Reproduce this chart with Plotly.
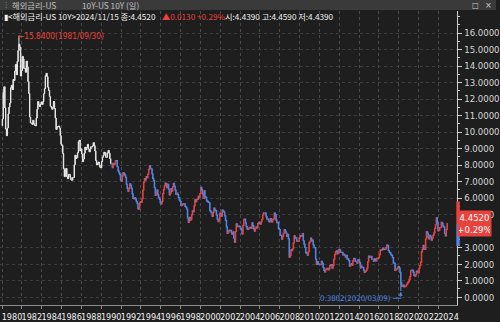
import plotly.graph_objects as go
import pandas as pd

# Monthly US 10Y yield levels (read/estimated), Jan 1980 .. Nov 2024
y1980s = [10.80, 12.41, 12.75, 11.47, 10.18, 9.78, 10.25, 11.10, 11.51, 11.75, 12.68, 12.84,
          12.57, 13.19, 13.12, 13.68, 14.10, 13.47, 14.28, 14.94, 15.32, 15.15, 13.39, 13.72,
          14.59, 14.43, 13.86, 13.87, 13.62, 14.30, 13.95, 13.06, 12.34, 10.91, 10.55, 10.54,
          10.46, 10.72, 10.51, 10.40, 10.38, 10.85, 11.38, 11.85, 11.65, 11.54, 11.69, 11.83,
          11.67, 11.84, 12.32, 12.63, 13.41, 13.56, 13.36, 12.72, 12.52, 12.16, 11.57, 11.50,
          11.38, 11.51, 11.86, 11.43, 10.85, 10.16, 10.31, 10.33, 10.37, 10.24, 9.78, 9.26,
          9.19, 8.70, 7.78, 7.30, 7.71, 7.80, 7.30, 7.17, 7.45, 7.43, 7.25, 7.11,
          7.08, 7.25, 7.25, 8.02, 8.61, 8.40, 8.45, 8.76, 9.42, 9.52, 8.86, 8.99,
          8.67, 8.21, 8.37, 8.72, 9.09, 8.92, 9.06, 9.26, 8.98, 8.80, 8.96, 9.11,
          9.09, 9.17, 9.36, 9.18, 8.86, 8.28, 8.02, 8.11, 8.19, 8.01, 7.87, 7.84]
y1990s = [8.21, 8.47, 8.59, 8.79, 8.76, 8.48, 8.47, 8.75, 8.89, 8.72, 8.39, 8.08,
          8.09, 7.85, 8.11, 8.04, 8.07, 8.28, 8.27, 7.90, 7.65, 7.53, 7.42, 7.09,
          7.03, 7.34, 7.54, 7.48, 7.39, 7.26, 6.84, 6.59, 6.42, 6.59, 6.87, 6.77,
          6.60, 6.26, 5.98, 5.97, 6.04, 5.96, 5.81, 5.68, 5.36, 5.33, 5.72, 5.77,
          5.75, 5.97, 6.48, 6.97, 7.18, 7.10, 7.30, 7.24, 7.46, 7.74, 7.96, 7.81,
          7.78, 7.47, 7.20, 7.06, 6.63, 6.17, 6.28, 6.49, 6.20, 6.04, 5.93, 5.71,
          5.65, 5.81, 6.27, 6.51, 6.74, 6.91, 6.87, 6.64, 6.83, 6.53, 6.20, 6.30,
          6.58, 6.42, 6.69, 6.89, 6.71, 6.49, 6.22, 6.30, 6.21, 6.03, 5.88, 5.81,
          5.54, 5.57, 5.65, 5.64, 5.65, 5.50, 5.46, 5.34, 4.81, 4.53, 4.83, 4.65,
          4.72, 5.00, 5.23, 5.18, 5.54, 5.90, 5.79, 5.94, 5.92, 6.11, 6.03, 6.28]
y2000s = [6.66, 6.52, 6.26, 5.99, 6.44, 6.10, 6.05, 5.83, 5.80, 5.74, 5.72, 5.24,
          5.16, 5.10, 4.89, 5.14, 5.39, 5.28, 5.24, 4.97, 4.73, 4.57, 4.65, 5.09,
          5.04, 4.91, 5.28, 5.21, 5.16, 4.93, 4.65, 4.26, 3.87, 3.94, 4.05, 4.03,
          4.05, 3.90, 3.81, 3.96, 3.57, 3.33, 3.98, 4.45, 4.27, 4.29, 4.30, 4.27,
          4.15, 4.08, 3.83, 4.35, 4.72, 4.73, 4.50, 4.28, 4.13, 4.10, 4.19, 4.23,
          4.22, 4.17, 4.50, 4.34, 4.14, 4.00, 4.18, 4.26, 4.20, 4.46, 4.54, 4.47,
          4.42, 4.57, 4.72, 4.99, 5.11, 5.11, 5.09, 4.88, 4.72, 4.73, 4.60, 4.56,
          4.76, 4.72, 4.56, 4.69, 4.75, 5.10, 5.00, 4.67, 4.52, 4.53, 4.15, 4.10,
          3.74, 3.74, 3.51, 3.68, 3.88, 4.10, 4.01, 3.89, 3.69, 3.81, 3.53, 2.42,
          2.52, 2.87, 2.82, 2.93, 3.29, 3.72, 3.56, 3.59, 3.40, 3.39, 3.40, 3.59]
y2010s = [3.73, 3.69, 3.73, 3.85, 3.42, 3.20, 3.01, 2.70, 2.65, 2.54, 2.76, 3.29,
          3.39, 3.58, 3.41, 3.46, 3.17, 3.00, 3.00, 2.30, 1.98, 2.15, 2.01, 1.98,
          1.97, 1.97, 2.17, 2.05, 1.80, 1.62, 1.53, 1.68, 1.72, 1.75, 1.65, 1.72,
          1.91, 1.98, 1.96, 1.76, 1.93, 2.30, 2.58, 2.74, 2.81, 2.62, 2.72, 2.90,
          2.86, 2.71, 2.72, 2.71, 2.56, 2.60, 2.54, 2.42, 2.53, 2.30, 2.33, 2.21,
          1.88, 1.98, 2.04, 1.94, 2.20, 2.36, 2.32, 2.17, 2.17, 2.07, 2.26, 2.24,
          2.09, 1.78, 1.89, 1.81, 1.81, 1.64, 1.50, 1.56, 1.63, 1.76, 2.14, 2.49,
          2.43, 2.42, 2.48, 2.30, 2.30, 2.19, 2.32, 2.21, 2.20, 2.36, 2.35, 2.40,
          2.58, 2.86, 2.84, 2.87, 2.98, 2.91, 2.89, 2.89, 3.00, 3.15, 3.12, 2.83,
          2.71, 2.68, 2.57, 2.53, 2.40, 2.07, 2.06, 1.63, 1.70, 1.71, 1.81, 1.86]
y2020s = [1.76, 1.50, 0.87, 0.66, 0.67, 0.73, 0.62, 0.65, 0.68, 0.79, 0.87, 0.93,
          1.08, 1.26, 1.61, 1.64, 1.62, 1.52, 1.32, 1.28, 1.37, 1.58, 1.56, 1.47,
          1.76, 1.93, 2.13, 2.75, 2.90, 3.14, 2.90, 2.90, 3.52, 3.98, 3.89, 3.62,
          3.53, 3.75, 3.66, 3.46, 3.57, 3.75, 3.90, 4.17, 4.38, 4.80, 4.50, 4.02,
          4.06, 4.21, 4.21, 4.54, 4.48, 4.31, 4.25, 3.87, 3.72, 4.10, 4.452]
first_open = 10.39

# Extremes and quote values shown on the chart
peak_date, peak_val = "1981-09-30", 15.84
low_date, low_val = "2020-03-09", 0.3802
last_close, last_chg, last_pct = 4.4520, 0.0130, 0.29
q_open, q_high, q_low = 4.4390, 4.4590, 4.4390
axis_bar_high, axis_bar_low = 5.80, 3.10
y_ticks = [v for v in range(0, 17) if v != 4]

closes = y1980s + y1990s + y2000s + y2010s + y2020s
dates = pd.date_range("1980-01-01", periods=len(closes), freq="MS") + pd.Timedelta(days=14)
opens = [first_open] + closes[:-1]
highs = [max(o, c) for o, c in zip(opens, closes)]
lows = [min(o, c) for o, c in zip(opens, closes)]
ip = (1981 - 1980) * 12 + 8
il = (2020 - 1980) * 12 + 2
highs[ip] = peak_val
lows[il] = low_val

split = 132  # white candles through 1990
RED = "#e8423c"
BLUE = "#4f86e6"
BG = "#1e1e1e"
FONT = "Liberation Sans Narrow, DejaVu Sans Condensed, Liberation Sans, sans-serif"
KFONT = "Noto Sans CJK KR, Liberation Sans, sans-serif"

fig = go.Figure()
fig.add_trace(go.Candlestick(
    x=dates[:split], open=opens[:split], high=highs[:split], low=lows[:split], close=closes[:split],
    increasing=dict(line=dict(color="#e8e8e8", width=1), fillcolor="#e8e8e8"),
    decreasing=dict(line=dict(color="#e8e8e8", width=1), fillcolor="#e8e8e8"),
    whiskerwidth=0, hoverinfo="skip"))
fig.add_trace(go.Candlestick(
    x=dates[split:], open=opens[split:], high=highs[split:], low=lows[split:], close=closes[split:],
    increasing=dict(line=dict(color=RED, width=1.2), fillcolor=RED),
    decreasing=dict(line=dict(color=BLUE, width=1.2), fillcolor=BLUE),
    whiskerwidth=0, hoverinfo="skip"))

W, H = 500, 322
def px(x): return x / W
def py(y): return 1 - y / H

fig.update_layout(
    width=W, height=H, margin=dict(l=0, r=0, t=0, b=0),
    paper_bgcolor=BG, plot_bgcolor=BG, showlegend=False,
    font=dict(family=FONT, size=10, color="#e0e0e0"),
    xaxis=dict(domain=[0, 461 / W], type="date", range=["1979-10-19", "2025-11-24"],
               rangeslider=dict(visible=False), tick0="1980-01-01", dtick="M24", tickformat="%Y",
               tickangle=0,
               showgrid=True, gridcolor="#4a4a4a", griddash="dot", gridwidth=1,
               showline=True, linecolor="#8a8a8a", ticks="outside", ticklen=3, tickcolor="#8a8a8a",
               ticklabelshift=10, tickfont=dict(size=9, color="#f2f2f2", family=FONT),
               zeroline=False, fixedrange=True),
    yaxis=dict(domain=[14 / H, 311 / H], side="right", range=[-0.48, 17.34],
               tickvals=y_ticks, tickformat=".4f",
               showgrid=True, gridcolor="#3c3c3c", griddash="dot", gridwidth=1,
               showline=True, linecolor="#cfcfcf", ticks="outside", ticklen=4, tickcolor="#cfcfcf",
               minor=dict(dtick=0.5, ticklen=2, tickcolor="#cfcfcf", showgrid=False),
               tickfont=dict(size=9.5, color="#d8d8d8", family=FONT), zeroline=False),
)

shapes = []
# header bar
shapes.append(dict(type="rect", xref="paper", yref="paper", x0=0, x1=1, y0=py(10), y1=1,
                   fillcolor="#3a3a3a", line=dict(width=0), layer="above"))
# axis range bar
shapes.append(dict(type="rect", xref="paper", yref="y", x0=px(460), x1=px(463.5),
                   y0=last_close, y1=axis_bar_high, fillcolor=RED, line=dict(width=0), layer="above"))
shapes.append(dict(type="rect", xref="paper", yref="y", x0=px(460), x1=px(463.5),
                   y0=axis_bar_low, y1=last_close, fillcolor=BLUE, line=dict(width=0), layer="above"))
# low marker connector
shapes.append(dict(type="line", xref="paper", yref="y", x0=px(396), x1=px(404.5), y0=-0.06, y1=-0.06,
                   line=dict(color=BLUE, width=1), layer="above"))
fig.update_layout(shapes=shapes)

ann = []
def txt(x, y, s, color, size=10, xa="left", ya="middle", family=FONT):
    ann.append(dict(xref="paper", yref="paper", x=px(x), y=py(y), text=s, showarrow=False,
                    xanchor=xa, yanchor=ya, font=dict(color=color, size=size, family=family)))

txt(1, 5.5, "⋮", "#aaaaaa", 7)
txt(10, 5.5, "해외금리-US", "#c0c0c0", 8.3, family=KFONT)
txt(81, 5.5, "10Y-US 10Y (일)", "#c0c0c0", 8.3, family=KFONT)
txt(479, 5.5, "□", "#d0d0d0", 8, xa="center")
txt(492, 5.5, "×", "#d0d0d0", 9, xa="center")
txt(2, 16.5, "▮<해외금리-US 10Y>2024/11/15 종:%.4f" % last_close, "#f0f0f0", 8.2, family=KFONT)
txt(161, 16.5, "▲%.4f +%.2f%%" % (last_chg, last_pct), RED, 8.2, family=KFONT)
txt(225, 16.5, "시:%.4f 고:%.4f 저:%.4f" % (q_open, q_high, q_low), "#f0f0f0", 8.2, family=KFONT)

# last price label
ann.append(dict(xref="paper", yref="paper", x=px(478), y=py(226), text="%.4f<br>+%.2f%%" % (last_close, last_pct),
                showarrow=False, xanchor="center", yanchor="middle", bgcolor=RED, borderpad=1,
                width=31, font=dict(color="#ffffff", size=9.5, family=FONT)))

ann.append(dict(xref="x", yref="y", x=peak_date, y=peak_val, text="←%.4f(%s)" % (peak_val, peak_date.replace("-", "/")),
                showarrow=False, xanchor="left", yanchor="middle", xshift=-3,
                font=dict(color=RED, size=8.3, family=FONT)))
ann.append(dict(xref="paper", yref="y", x=px(396), y=-0.06, text="%.4f(%s)" % (low_val, low_date.replace("-", "/")),
                showarrow=False, xanchor="right", yanchor="middle",
                font=dict(color=BLUE, size=7.8, family=FONT)))
ann.append(dict(xref="x", yref="y", x=low_date, y=low_val - 0.05, ax=low_date, ay=-0.06,
                axref="x", ayref="y", text="", showarrow=True, arrowhead=2, arrowsize=0.8,
                arrowwidth=1, arrowcolor=BLUE))
fig.update_layout(annotations=ann)

fig.write_html("out.html")
